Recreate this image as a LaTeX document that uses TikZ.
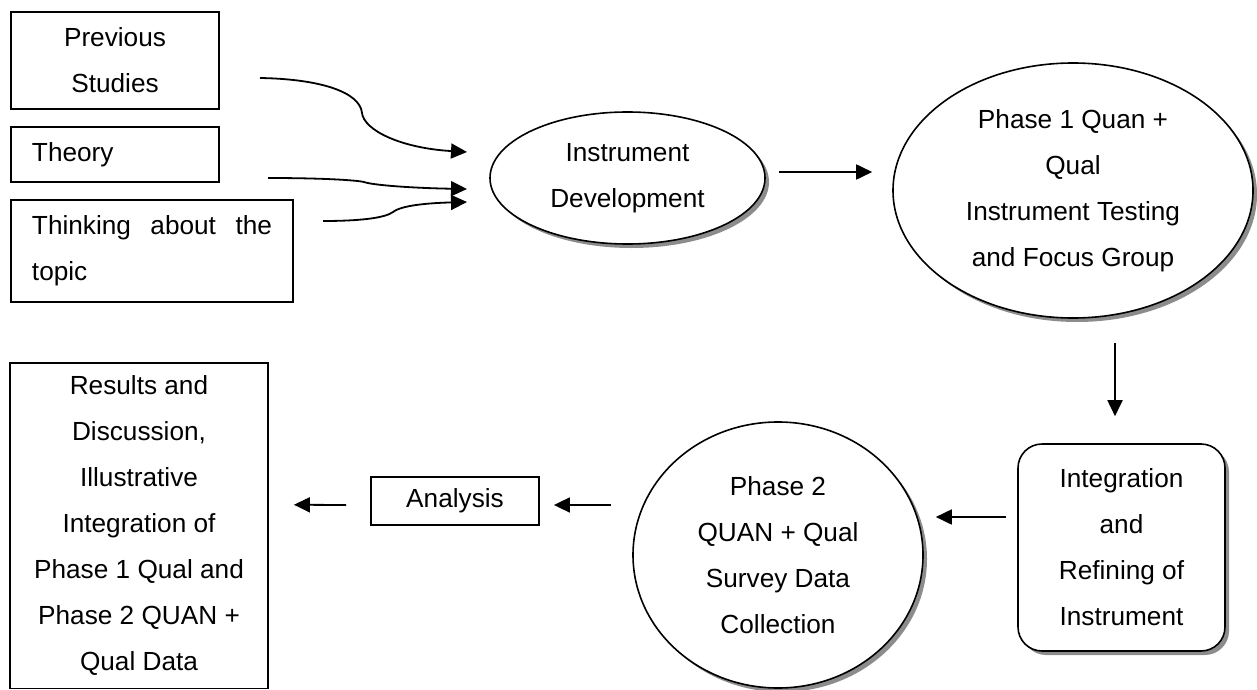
\documentclass[tikz,border=0pt]{standalone}
\usepackage{fontspec}
\setmainfont{Liberation Sans}
\usetikzlibrary{shapes.geometric,shadows,arrows.meta}
\tikzset{
  >={Triangle[length=8pt,width=7.5pt]},
  every node/.style={font=\fontsize{13.1pt}{23pt}\selectfont},
  plainbox/.style={draw,line width=0.9pt,inner sep=0pt,align=center},
  leftbox/.style={plainbox,inner xsep=10.5pt,align=left},
  grayshadow/.style={drop shadow={shadow xshift=2pt,shadow yshift=-2pt,fill=gray!90,opacity=1}},
  oval/.style={ellipse,draw,line width=0.8pt,fill=white,inner sep=0pt,align=center,grayshadow},
  roundbox/.style={draw,line width=0.8pt,fill=white,rounded corners=12pt,inner sep=0pt,align=center,grayshadow},
  arr/.style={->,line width=0.9pt}
}

\begin{document}
\begin{tikzpicture}[x=0.5pt,y=-0.5pt]
  \useasboundingbox (0,0) rectangle (1257,690);
  \node[plainbox,minimum width=104pt,minimum height=48.5pt] (prev) at (115,60.5) {Previous\\Studies};
  \node[leftbox,text width=83pt,minimum height=27.5pt] (theory) at (115,154.5) {Theory};
  \node[leftbox,text width=120pt,minimum height=51pt] (think) at (152,251) {Thinking\hfill about\hfill the\\topic};
  \node[oval,minimum width=137.5pt,minimum height=66pt] (instdev) at (627.5,178) {Instrument\\Development};
  \node[oval,minimum width=180pt,minimum height=127.5pt] (phaseone) at (1073,190.5)
    {Phase 1 Quan +\\Qual\\Instrument Testing\\and Focus Group};
  \node[roundbox,minimum width=103.5pt,minimum height=103.5pt] (integ) at (1121.5,547.5)
    {Integration\\and\\Refining of\\Instrument};
  \node[oval,minimum width=145pt,minimum height=133pt] (phasetwo) at (778,555)
    {Phase 2\\QUAN + Qual\\Survey Data\\Collection};
  \node[plainbox,minimum width=84pt,minimum height=24pt] (analysis) at (455,501) {Analysis};
  \node[plainbox,minimum width=129pt,minimum height=162.75pt] (results) at (139,525.75)
    {Results and\\Discussion,\\Illustrative\\Integration of\\Phase 1 Qual and\\Phase 2 QUAN +\\Qual Data};

  \coordinate (prevout) at (260,78);
  \coordinate (theoryout) at (268,178);
  \coordinate (thinkout) at (323,221);
  \coordinate (devin1) at (467,152);
  \coordinate (devin2) at (467,189);
  \coordinate (devin3) at (467,202);
  \draw[arr] (prevout) .. controls (320,79) and (360,92) .. (362,113)
    .. controls (364,130) and (400,148) .. (devin1);
  \draw[arr] (theoryout) .. controls (320,178) and (355,180) .. (364,182)
    .. controls (372,185) and (410,188) .. (devin2);
  \draw[arr] (thinkout) .. controls (360,221) and (385,218) .. (393,212)
    .. controls (402,205) and (430,203) .. (devin3);

  \draw[arr] ([xshift=6.5pt,yshift=3pt]instdev.east) -- ([xshift=-10pt,yshift=9.25pt]phaseone.west);
  \draw[arr] ([xshift=21pt,yshift=-12pt]phaseone.south) -- ([xshift=-3.25pt,yshift=13.5pt]integ.north);
  \draw[arr] ([xshift=-5.5pt,yshift=15.25pt]integ.west) -- ([xshift=6pt,yshift=19pt]phasetwo.east);
  \draw[arr] ([xshift=-10.5pt,yshift=25pt]phasetwo.west) -- ([xshift=7pt,yshift=-2pt]analysis.east);
  \draw[arr] ([xshift=-12pt,yshift=-2pt]analysis.west) -- ([xshift=12.5pt,yshift=10.5pt]results.east);
\end{tikzpicture}
\end{document}
